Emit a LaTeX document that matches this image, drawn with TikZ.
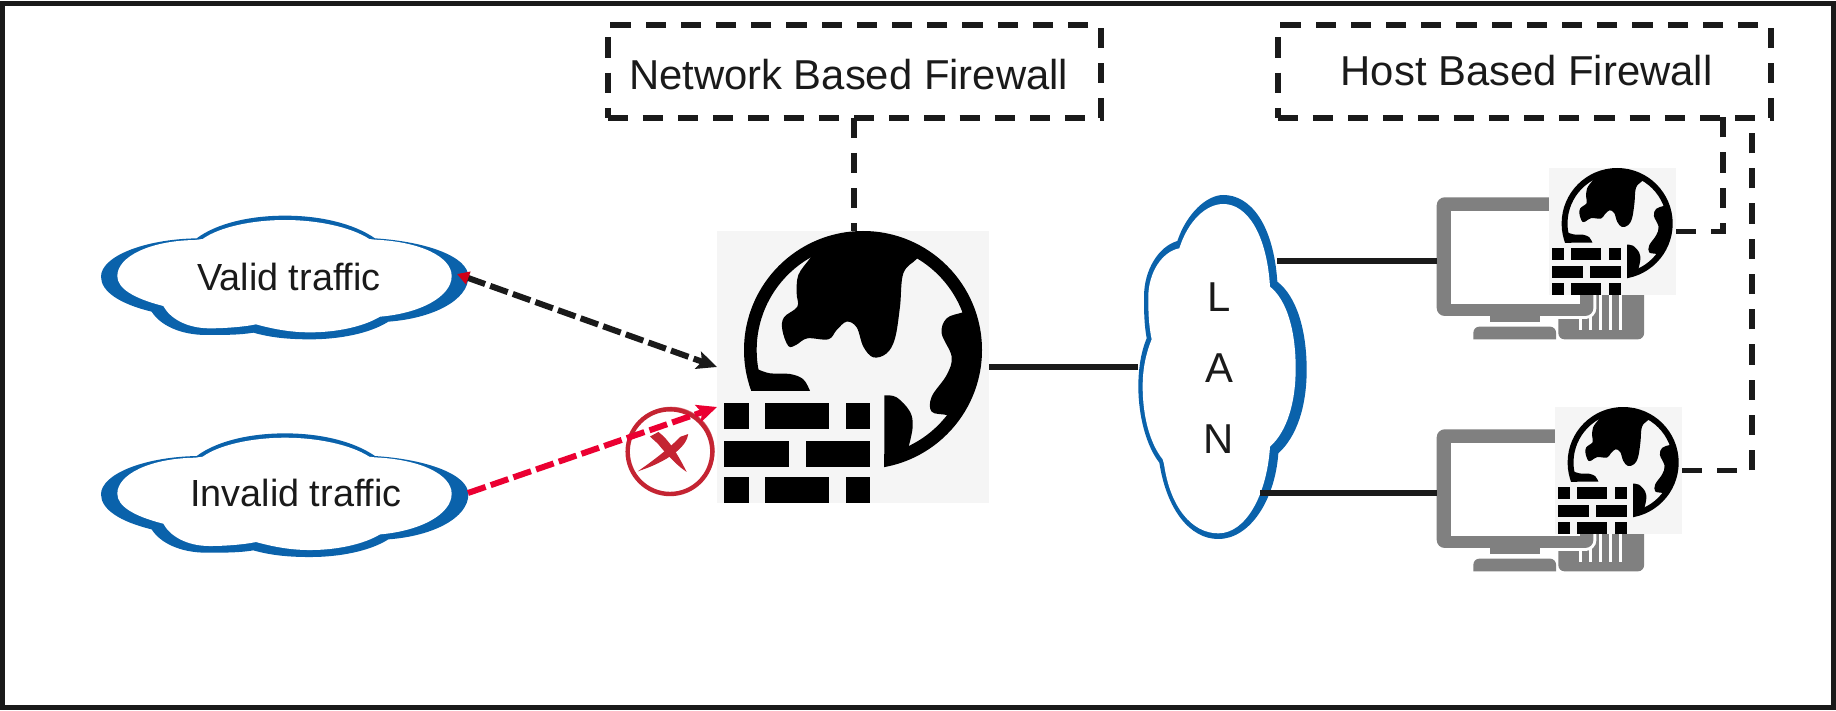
\documentclass[tikz,border=0pt]{standalone}
\usepackage{fontspec}
\setmainfont{Liberation Sans}
\usetikzlibrary{arrows.meta}
\definecolor{cloudblue}{RGB}{10,98,171}
\definecolor{inkblack}{RGB}{26,26,26}
\definecolor{iconbg}{RGB}{245,245,245}
\definecolor{pcgray}{RGB}{128,128,128}
\definecolor{dropred}{RGB}{235,0,50}
\definecolor{tipred}{RGB}{208,0,24}
\definecolor{stampred}{RGB}{196,36,50}
\tikzset{
 txt/.style={font=\fontsize{20.9}{24}\selectfont, text=inkblack, inner sep=0pt},
 cloudtxt/.style={font=\fontsize{18.9}{24}\selectfont, text=inkblack, inner sep=0pt},
 iconbox/.style={fill=iconbg, anchor=north west, inner sep=0pt, outer sep=0pt, minimum size=#1},
 notebox/.style={draw=inkblack, line width=2.9pt, dash pattern=on 10.1pt off 7.5pt, minimum width=246.6pt, minimum height=46.3pt, inner sep=0pt, outer sep=0pt},
 noteline/.style={draw=inkblack, line width=2.9pt, dash pattern=on 10.1pt off 7.5pt},
 wire/.style={draw=inkblack, line width=2.8pt},
 flow/.style={line width=3pt, dash pattern=on 9.3pt off 2.7pt},
 % globe with a brick wall, drawn in a 816 x 816 square
 wallglobe/.pic={
  \begin{scope}[shift={(-81,-63)}]
  \fill[black, even odd rule] (519,420) circle (357) circle (319);
  \fill[iconbg] (81,543) rectangle (583,879);
  \fill[black] plot[smooth, tension=.6] coordinates {(378,118) (360,145) (325,195) (320,250) (322,290) (282,322) (277,360) (295,408) (318,405) (352,385) (415,388) (440,360) (470,335) (500,352) (520,410) (550,442) (590,430) (615,385) (630,290) (640,190) (680,147) (700,120)} -- (530,85) -- cycle;
  \fill[black] plot[smooth, tension=.6] coordinates {(835,300) (815,308) (770,325) (755,370) (785,440) (770,495) (725,560) (725,605) (770,615) (785,625)} -- (860,480) -- cycle;
  \fill[black] plot[smooth, tension=.6] coordinates {(583,556) (620,562) (660,605) (668,650) (657,706)} -- (650,735) -- (583,771) -- cycle;
  \fill[black] (195,470) -- plot[smooth, tension=.6] coordinates {(204,478) (240,490) (300,492) (340,508) (360,543)} -- (183,543) -- cycle;
  \foreach \xa/\xb/\ya in {102/176/580, 225/418/580, 468/541/580, 103/297/694, 347/541/694, 102/176/802, 225/418/802, 468/541/802}
   \fill[black] (\xa,\ya) rectangle (\xb,\ya+77);
  \end{scope}
 },
 % white cloud over a blue one, wide form
 flatcloud/.pic={
  \fill[cloudblue] (350,115) .. controls (410,70) and (510,47) .. (615,47) .. controls (720,47) and (820,70) .. (885,115)
   .. controls (1040,125) and (1165,170) .. (1165,230) .. controls (1165,300) and (1060,355) .. (925,365)
   .. controls (870,400) and (780,418) .. (690,418) .. controls (620,418) and (570,412) .. (520,398)
   .. controls (480,405) and (430,405) .. (380,405) .. controls (300,405) and (240,375) .. (215,335)
   .. controls (120,312) and (63,275) .. (63,230) .. controls (63,170) and (190,118) .. (350,115) -- cycle;
  \fill[white] (368,117) .. controls (420,80) and (520,60) .. (615,60) .. controls (710,60) and (810,80) .. (868,117) -- (885,119)
   .. controls (1020,125) and (1115,170) .. (1115,228) .. controls (1115,290) and (1020,340) .. (900,350)
   .. controls (850,380) and (770,397) .. (690,397) .. controls (630,397) and (580,387) .. (528,373)
   .. controls (490,381) and (430,385) .. (390,385) .. controls (320,385) and (270,355) .. (250,318)
   .. controls (160,295) and (112,265) .. (112,228) .. controls (112,170) and (210,122) .. (345,120) -- cycle;
 },
 % same idea, upright
 tallcloud/.pic={
  \fill[cloudblue] (172,183) .. controls (200,100) and (260,45) .. (310,45) .. controls (390,45) and (460,130) .. (472,305)
   .. controls (530,350) and (560,450) .. (560,570) .. controls (560,680) and (530,770) .. (475,820)
   .. controls (465,960) and (390,1077) .. (295,1077) .. controls (210,1077) and (140,990) .. (118,848)
   .. controls (80,800) and (55,710) .. (55,620) .. controls (55,560) and (65,510) .. (80,475)
   .. controls (72,430) and (72,390) .. (72,350) .. controls (72,270) and (115,200) .. (172,183) -- cycle;
  \fill[white] (178,205) .. controls (205,120) and (260,72) .. (310,72) .. controls (380,72) and (440,160) .. (450,320)
   .. controls (500,360) and (527,450) .. (527,565) .. controls (527,670) and (500,755) .. (450,800)
   .. controls (440,950) and (375,1060) .. (295,1060) .. controls (215,1060) and (150,980) .. (132,852)
   -- (128,838) .. controls (90,790) and (68,710) .. (68,620) .. controls (68,565) and (78,520) .. (95,478)
   .. controls (85,430) and (85,390) .. (85,350) .. controls (85,280) and (125,215) .. (178,205) -- cycle;
 },
 desktop/.pic={
  \fill[pcgray, rounded corners=3pt] (365,200) rectangle (622,426);
  \foreach \xs/\ys in {430/363, 460/338, 490/200, 520/200, 550/200}
   \fill[white] (\xs-4.5,\ys) rectangle (\xs+4.5,398);
  \draw[white, line width=3pt, rounded corners=4pt] (0,0) rectangle (470,356);
  \fill[pcgray, rounded corners=4pt] (0,0) rectangle (470,356);
  \fill[white] (43,40) rectangle (430,320);
  \fill[pcgray] (160,350) rectangle (310,373);
  \fill[pcgray] (110,426) [rounded corners=3pt] -- (110,388) -- (358,388) [sharp corners] -- (358,426) -- cycle;
 },
}
\begin{document}
\begin{tikzpicture}[x=.5pt, y=-.5pt, line join=miter]
\useasboundingbox (0,0) rectangle (1836,711);
\fill[white] (0,0) rectangle (1836,711);
\draw[inkblack, line width=2.5pt] (2.5,3.5) rectangle (1833.5,707.5);

% sources
\pic[scale=1/3] at (80,200) {flatcloud};
\pic[scale=1/3] at (80,417.7) {flatcloud};
\node[cloudtxt] (valid) at (289,277) {Valid traffic};
\node[cloudtxt] (invalid) at (296,493) {Invalid traffic};
\coordinate (validport) at (457,274);
\coordinate (invalidport) at (468,493);

% main firewall
\node[iconbox=136pt] (fw) at (717,231) {};
\pic[scale=1/3] at (fw.north west) {wallglobe};
\coordinate (fwblock) at (717,407);

% lan
\pic[scale=1/3] at (1120,180) {tallcloud};
\node[txt, align=center] (lan) at (1219,368) {L\\[11.6pt]A\\[11.6pt]N};
\coordinate (lanwest) at (1138,367);
\coordinate (lanup) at (1277,261);
\coordinate (landown) at (1260,493);

% hosts
\coordinate (pca) at (1436.7,197.3);
\coordinate (pcb) at (1436.7,429.3);
\pic[scale=1/3] at (pca) {desktop};
\pic[scale=1/3] at (pcb) {desktop};
\node[iconbox=63.5pt] (hosta) at (1549,168) {};
\node[iconbox=63.5pt] (hostb) at (1555,407) {};
\pic[scale=.1556] at (hosta.north west) {wallglobe};
\pic[scale=.1556] at (hostb.north west) {wallglobe};

% labels
\node[notebox] (netbox) at (854.2,71.5) {};
\node[txt] (nettext) at (848.6,74.5) {Network Based Firewall};
\node[notebox] (hostbox) at (1524.2,71.5) {};
\node[txt] (hosttext) at (1526.6,71) {Host Based Firewall};
\coordinate (hostnotea) at (1722.8,117.5);
\coordinate (hostnoteb) at (1752,117.5);

\draw[noteline] (netbox.south) -- (netbox.south |- fw.north);
\draw[noteline] (hosta.east) -- (hostnotea |- hosta.east) -- (hostnotea);
\draw[noteline] (hostb.east) -- (hostnoteb |- hostb.east) -- (hostnoteb);

\draw[wire] (fw.east) -- (lanwest);
\draw[wire] (lanup) -- (lanup -| pca);
\draw[wire] (landown) -- (landown -| pcb);

% rejected mark
\begin{scope}[shift={(590,380)}, scale=1/3]
\draw[stampred, line width=2.2pt] (240,215) circle (127);
\draw[stampred, line width=.6pt, opacity=.7] (243,211) circle (129);
\draw[stampred, fill=stampred, line width=.6pt] (183,170) -- (205,158) .. controls (235,180) and (262,225) .. (285,270) .. controls (262,255) and (225,215) .. (205,190) -- cycle;
\draw[stampred, fill=stampred, line width=.6pt] (292,165) .. controls (290,190) and (250,235) .. (155,268) .. controls (195,240) and (240,205) .. (272,172) -- cycle;
\end{scope}

\draw[flow, inkblack, {Triangle[color=tipred, length=6pt, width=6.5pt]}-{Stealth[inkblack, length=10pt, width=9pt, inset=2pt]}] (validport) -- (fw.west);
\draw[flow, dropred, -{Stealth[dropred, length=10pt, width=9pt, inset=2pt]}] (invalidport) -- (fwblock);
\end{tikzpicture}
\end{document}
